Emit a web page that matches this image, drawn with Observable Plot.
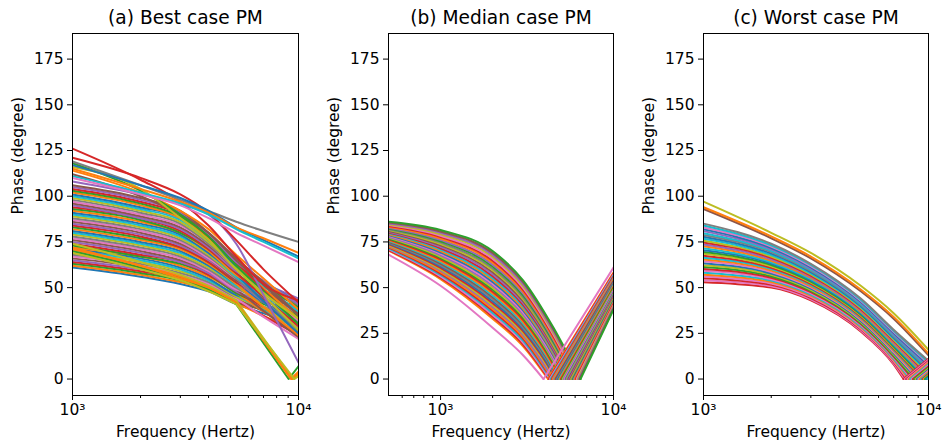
<!DOCTYPE html>
<html><head><meta charset="utf-8">
<script src="https://cdn.jsdelivr.net/npm/d3@7"></script>
<script src="https://cdn.jsdelivr.net/npm/@observablehq/plot@0.6"></script>
<style>
body{margin:0;background:#fff;}
#wrap{display:flex;width:943px;height:448px;overflow:hidden;}
svg{display:block}
</style></head><body><div id="wrap"></div>
<script>
const tab10 = ["#1f77b4","#ff7f0e","#2ca02c","#d62728","#9467bd","#8c564b","#e377c2","#7f7f7f","#bcbd22","#17becf"];
const yTicks = [0, 25, 50, 75, 100, 125, 150, 175];
const titles = ["(a) Best case PM", "(b) Median case PM", "(c) Worst case PM"];
const xLabel = "Frequency (Hertz)";
const yLabel = "Phase (degree)";
const majorTicks = [1000, 10000];
const majorLabels = {1000: "10³", 10000: "10⁴"};
const minorTicksA = [2000, 3000, 4000, 5000, 6000, 7000, 8000, 9000];
const minorTicksB = [600, 700, 800, 900, 2000, 3000, 4000, 5000, 6000, 7000, 8000, 9000];

// ---------- (a) Best case: phase at the grid frequencies, value at 10^4 ----------
const gridA = [1000, 2000, 3000, 4000, 5300, 7000];
const phaseA = [
 [61,56,52,48,41,36],[62,57,53,49,41.5,34.5],[63,58,54,49,42,38],[64,59,55,50,43,34.5],
 [65,60,56,51,43,39.5],[66,61,56,52,44,37],[67,62,57,52,44,34],[68,63,58,53,45,42],
 [69,64,59,54,45,38.7],[70,65,60,54,46,37.5],[71,66,61,55,46,43.3],[72,67,62,56,47,37],
 [73,67,63,57,47,41],[74,68,64,57,48,39.5],[75,69,64,58,48,42.6],[76,70,65,59,49,37.3],
 [77,71,66,59,49,45.9],[78,72,67,60,50,41.9],[79,73,68,61,51,39.8],[80,74,69,62,51,44.7],
 [81,75,70,62,52,42.1],[82,76,71,63,52,39.4],[83,77,72,64,53,46.7],[84,78,72,64,53,44],
 [85,79,73,65,54,42.3],[86,80,74,66,54,48.2],[87,81,75,66,55,46],[88,82,76,67,55,42.4],
 [89,83,77,68,56,50.2],[90,84,78,69,56,44.8],[91,85,79,69,57,42.6],[92,86,80,70,57,48.5],
 [93,87,80,71,58,47.2],[94,88,81,71,58,45],[95,88,82,72,59,52.3],[96,89,83,73,60,49.2],
 [97,90,84,74,60,47.4],[98,91,85,74,61,51.6],[99,92,86,75,61,45.7],[100,93,87,76,62,50.8],
 [101,94,88,76,62,53],[102,95,88,77,63,49.5],[103,96,89,78,63,52.2],[104,97,90,78,64,48.7],
 [105,98,91,79,64,53.7],[106,99,92,80,65,51.5]
];
const endA = [30,26,33,24,35,28,22,38,31,27,40,25,34,29,36,23,42,32,26,37,30,24,39,33,28,41,35,27,43,31,25,38,34,29,44,36,32,40,27,37,42,33,39,30,41,35];
// upper lines of (a)
const phaseA2 = [
 [114,102,92,82,68,55],[112,100,90,80,66,53],[118,103,90,78,62,48],[116,104,88,76,60,47],
 [108,101,96,90,74,46],[121,110,101,91,76,60],[126,109,97,84,67,52],
 [119,106,98,92,86,81],[117,106,99,92,83,76],[115,104,97,91,83,77],[111,102,96,90,82,75],[110,101,95,88,80,73]
];
const endA2 = [38,35,30,33,9,42,43,75,67,69,66,64];
const colorA2 = [1,5,2,8,4,3,3,7,0,1,9,6];
// lines of (a) that drop to 0 before 10^4
const phaseA3 = [[70,61,55,49,41],[72,62,56,50,42],[74,64,57,51,43],[71,62,55,50,42],[69,60,54,48,41]];
const vertexA3 = [9040, 9250, 9450, 9350, 9600];
const endA3 = [7, 4, 2, 3, 1.5];
const colorA3 = [2, 1, 8, 1, 8];

// ---------- (b) Median case ----------
const gridB = [500, 1000, 2000, 3000, 4500];
const phaseB = [
 [68,51,28,13],[70.2,54.7,33.0,17.9],[70.6,55.4,34.1,18.9],[71.1,56.2,35.1,20.0],[71.5,56.9,36.2,21.0],
 [72.0,57.7,37.3,22.1],[72.4,58.5,38.3,23.1],[72.9,59.3,39.4,24.1],[73.3,60.0,40.4,25.1,1.0],
 [73.8,60.8,41.5,26.2,2.0],[74.2,61.6,42.5,27.2,2.9],[74.7,62.3,43.6,28.2,3.9],[75.1,63.1,44.7,29.3,4.9],
 [75.6,63.9,45.7,30.3,5.8],[76.0,64.6,46.8,31.3,6.8],[76.5,65.4,47.8,32.4,7.8],[76.9,66.2,48.9,33.4,8.7],
 [77.4,66.9,49.9,34.4,9.7],[77.8,67.7,51.0,35.4,10.6],[78.3,68.5,52.1,36.5,11.6],[78.8,69.2,53.1,37.5,12.6],
 [79.2,70.0,54.2,38.5,13.6],[79.7,70.8,55.2,39.6,14.5],[80.1,71.5,56.3,40.6,15.5],[80.6,72.3,57.3,41.6,16.4],
 [81.0,73.1,58.4,42.6,17.4],[81.5,73.8,59.5,43.7,18.4],[81.9,74.6,60.5,44.7,19.4],[82.4,75.4,61.6,45.8,20.3],
 [82.8,76.1,62.6,46.8,21.3],[83.3,76.9,63.7,47.8,22.2],[83.7,77.7,64.7,48.8,23.2],[84.2,78.4,65.8,49.9,24.2],
 [84.7,79.2,66.9,50.9,25.2],[85.1,80.0,67.9,51.9,26.1],[85.6,80.7,69.0,53.0,27.1],[86,81.5,70,54,28]
];
const vertexB = [3940,4180,4231,4284,4337,4392,4446,4502,4557,4614,4670,4728,4789,4849,4909,4970,5031,5094,5156,5224,5287,5353,5420,5487,5554,5623,5695,5768,5839,5912,5984,6059,6133,6213,6290,6368,6446];
const endB = [61,58.2,57.7,57.1,56.5,55.9,55.3,54.8,54.2,53.6,53.0,52.5,51.9,51.3,50.7,50.1,49.6,49.0,48.4,47.8,47.2,46.7,46.1,45.5,44.9,44.4,43.8,43.2,42.6,42.0,41.5,40.9,40.3,39.7,39.2,38.6,38];
const colorB = [6,1,3,6,9,3,1,4,8,3,0,7,5,9,1,3,2,8,4,6,0,1,9,3,4,5,8,7,2,4,1,3,6,8,4,5,2];

// ---------- (c) Worst case ----------
const gridC = [1000, 2000, 3000, 5000, 7000];
const phaseC = [
 [53.0,50.0,43.0,26.0,8.0],[54.0,50.8,43.6,26.6,8.6],[55.1,51.5,44.3,27.2,9.2],[56.1,52.3,44.9,27.7,9.8],
 [57.1,53.1,45.6,28.3,10.5],[58.2,53.9,46.2,28.9,11.1],[59.2,54.6,46.9,29.5,11.7],[60.2,55.4,47.5,30.1,12.3],
 [61.3,56.2,48.2,30.6,12.9],[62.3,57.0,48.8,31.2,13.5],[63.3,57.7,49.5,31.8,14.1],[64.4,58.5,50.1,32.4,14.7],
 [65.4,59.3,50.7,33.0,15.4],[66.4,60.1,51.4,33.5,16.0],[67.5,60.8,52.0,34.1,16.6],[68.5,61.6,52.7,34.7,17.2],
 [69.5,62.4,53.3,35.3,17.8],[70.5,63.2,54.0,35.9,18.4],[71.6,63.9,54.6,36.5,19.0],[72.6,64.7,55.3,37.0,19.6],
 [73.6,65.5,55.9,37.6,20.3],[74.7,66.3,56.5,38.2,20.9],[75.7,67.0,57.2,38.8,21.5],[76.7,67.8,57.8,39.4,22.1],
 [77.8,68.6,58.5,39.9,22.7],[78.8,69.4,59.1,40.5,23.3],[79.8,70.1,59.8,41.1,23.9],[80.9,70.9,60.4,41.7,24.5],
 [81.9,71.7,61.1,42.3,25.2],[82.9,72.5,61.7,42.8,25.8],[84.0,73.2,62.4,43.4,26.4],[85.0,74.0,63.0,44.0,27.0],
 [93,77,66,48,33],[94,78,67,49,34],[97,80,69,51,36]
];
const vertexC = [7745,7852,7962,8070,8180,8295,8410,8530,8650,8770,8890,9015,9140,9270,9400,9530,9640,9775,9910,
 null,null,null,null,null,null,null,null,null,null,null,null,null,null,null,null];
const endC = [11.1,10.5,9.9,9.3,8.7,8.1,7.5,6.9,6.3,5.7,5.1,4.5,3.9,3.3,2.7,2.1,1.6,1.0,0.4,
 0.3,1.1,1.9,2.8,3.6,4.4,5.2,6.0,6.8,7.6,8.4,9.2,10.0,13,14,16];
const colorC = [3,6,3,6,1,9,6,3,2,8,0,6,1,9,3,8,2,0,9,1,4,3,8,9,0,7,9,4,0,6,9,7,5,1,8];

// build line records: smooth part through grid points, straight rise after the zero crossing
function build(grid, rows, vertices, ends, colors, prefix, smoothToZero) {
  const curve = [], tail = [];
  rows.forEach((row, i) => {
    const id = prefix + i;
    const c = tab10[colors ? colors[i] : i % 10];
    const pts = row.map((v, j) => ({f: grid[j], v})).filter(p => p.v != null);
    const vx = vertices ? vertices[i] : null;
    if (vx == null) pts.push({f: 10000, v: ends[i]});
    else if (smoothToZero) pts.push({f: vx, v: 0});
    pts.forEach(p => curve.push({f: p.f, v: p.v, id, c}));
    if (vx != null) {
      const seq = smoothToZero ? [{f: vx, v: 0}, {f: 10000, v: ends[i]}]
                               : [pts[pts.length - 1], {f: vx, v: 0}, {f: 10000, v: ends[i]}];
      seq.forEach(p => tail.push({f: p.f, v: p.v, id, c}));
    }
  });
  return {curve, tail};
}
function merge(...parts) {
  return {curve: parts.flatMap(p => p.curve), tail: parts.flatMap(p => p.tail)};
}

const dataA = merge(build(gridA, phaseA, null, endA, null, "a", false),
                    build(gridA, phaseA2, null, endA2, colorA2, "a2_", false),
                    build(gridA, phaseA3, vertexA3, endA3, colorA3, "a3_", false));
const dataB = build(gridB, phaseB, vertexB, endB, colorB, "b", true);
const dataC = build(gridC, phaseC, vertexC, endC, colorC, "c", true);

function panel({title, xDomain, minors, data, width, ml, mr}) {
  return Plot.plot({
    width, height: 448, marginLeft: ml, marginRight: mr, marginTop: 33, marginBottom: 53,
    style: {fontFamily: "DejaVu Sans", fontSize: "15.5px", color: "black", background: "white", overflow: "visible"},
    x: {type: "log", domain: xDomain, label: null},
    y: {domain: [-9, 189], label: null},
    color: {type: "identity"},
    marks: [
      Plot.line(data.curve, {x: "f", y: "v", z: "id", stroke: "c", strokeWidth: 2, curve: "monotone-x", clip: true}),
      Plot.line(data.tail, {x: "f", y: "v", z: "id", stroke: "c", strokeWidth: 2, clip: true}),
      Plot.frame({stroke: "black", strokeWidth: 1}),
      Plot.axisY({ticks: yTicks, tickSize: 5, tickPadding: 4, label: null}),
      Plot.axisX({ticks: majorTicks, tickSize: 5, tickPadding: 3, tickFormat: d => majorLabels[d], label: null}),
      Plot.axisX({ticks: minors, tickSize: 3, tickFormat: () => "", label: null}),
      Plot.text([title], {text: d => d, frameAnchor: "top", dy: -15, fontSize: 18.6, lineAnchor: "middle"}),
      Plot.text([xLabel], {text: d => d, frameAnchor: "bottom", dy: 37, lineAnchor: "middle"}),
      Plot.text([yLabel], {text: d => d, frameAnchor: "left", dx: -54, rotate: -90, lineAnchor: "middle"})
    ]
  });
}

const wrap = document.getElementById("wrap");
wrap.append(panel({title: titles[0], xDomain: [1000, 10000], minors: minorTicksA, data: dataA, width: 314, ml: 72, mr: 16}));
wrap.append(panel({title: titles[1], xDomain: [500, 10000], minors: minorTicksB, data: dataB, width: 314, ml: 74, mr: 15}));
wrap.append(panel({title: titles[2], xDomain: [1000, 10000], minors: minorTicksA, data: dataC, width: 315, ml: 75, mr: 15}));
</script></body></html>
